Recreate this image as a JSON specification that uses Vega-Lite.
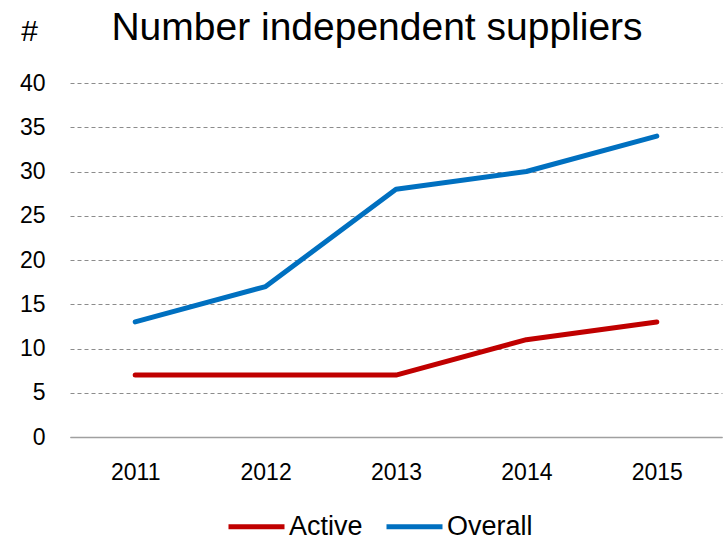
{
  "$schema": "https://vega.github.io/schema/vega-lite/v6.json",
  "autosize": "none",
  "width": 652,
  "height": 354,
  "padding": {"left": 70, "top": 83, "right": 6, "bottom": 103},
  "background": "white",
  "title": {
    "text": "Number independent suppliers",
    "font": "Liberation Sans",
    "fontSize": 39,
    "fontWeight": "normal",
    "color": "#000000",
    "anchor": "middle",
    "frame": "group",
    "baseline": "alphabetic",
    "dx": -19,
    "dy": 73,
    "offset": 10
  },
  "data": {
    "values": [
      {"year": "2011", "series": "Active", "value": 7},
      {"year": "2012", "series": "Active", "value": 7},
      {"year": "2013", "series": "Active", "value": 7},
      {"year": "2014", "series": "Active", "value": 11},
      {"year": "2015", "series": "Active", "value": 13},
      {"year": "2011", "series": "Overall", "value": 13},
      {"year": "2012", "series": "Overall", "value": 17},
      {"year": "2013", "series": "Overall", "value": 28},
      {"year": "2014", "series": "Overall", "value": 30},
      {"year": "2015", "series": "Overall", "value": 34}
    ]
  },
  "mark": {"type": "line", "strokeWidth": 5, "strokeCap": "round", "strokeJoin": "round"},
  "encoding": {
    "x": {
      "field": "year",
      "type": "ordinal",
      "scale": {"type": "point", "padding": 0.5},
      "axis": {
        "title": null,
        "labelAngle": 0,
        "labelFont": "Liberation Sans",
        "labelFontSize": 23,
        "labelColor": "#000000",
        "labelPadding": 24,
        "ticks": false,
        "grid": false,
        "domainColor": "#a0a0a0",
        "domainWidth": 1.5
      }
    },
    "y": {
      "field": "value",
      "type": "quantitative",
      "scale": {"domain": [0, 40], "nice": false},
      "axis": {
        "title": "#",
        "titleAngle": 0,
        "titleFont": "Liberation Sans",
        "titleFontSize": 30,
        "titleFontWeight": "normal",
        "titleColor": "#000000",
        "titleAlign": "center",
        "titleBaseline": "alphabetic",
        "titleX": -41,
        "titleY": -43,
        "values": [0, 5, 10, 15, 20, 25, 30, 35, 40],
        "labelFont": "Liberation Sans",
        "labelFontSize": 23,
        "labelColor": "#000000",
        "labelPadding": 25,
        "ticks": false,
        "domain": false,
        "grid": true,
        "gridColor": "#8c8c8c",
        "gridDash": [4, 3],
        "gridWidth": 1
      }
    },
    "color": {
      "field": "series",
      "type": "nominal",
      "scale": {"domain": ["Active", "Overall"], "range": ["#C00000", "#0070C0"]},
      "legend": {
        "title": null,
        "orient": "none",
        "direction": "horizontal",
        "legendX": 156,
        "legendY": 413,
        "padding": 0,
        "symbolType": "stroke",
        "symbolSize": 3136,
        "symbolStrokeWidth": 5,
        "labelFont": "Liberation Sans",
        "labelFontSize": 27,
        "labelColor": "#000000",
        "labelOffset": 2,
        "columnPadding": 13,
        "labelLimit": 300
      }
    }
  },
  "config": {
    "view": {"stroke": null}
  }
}
